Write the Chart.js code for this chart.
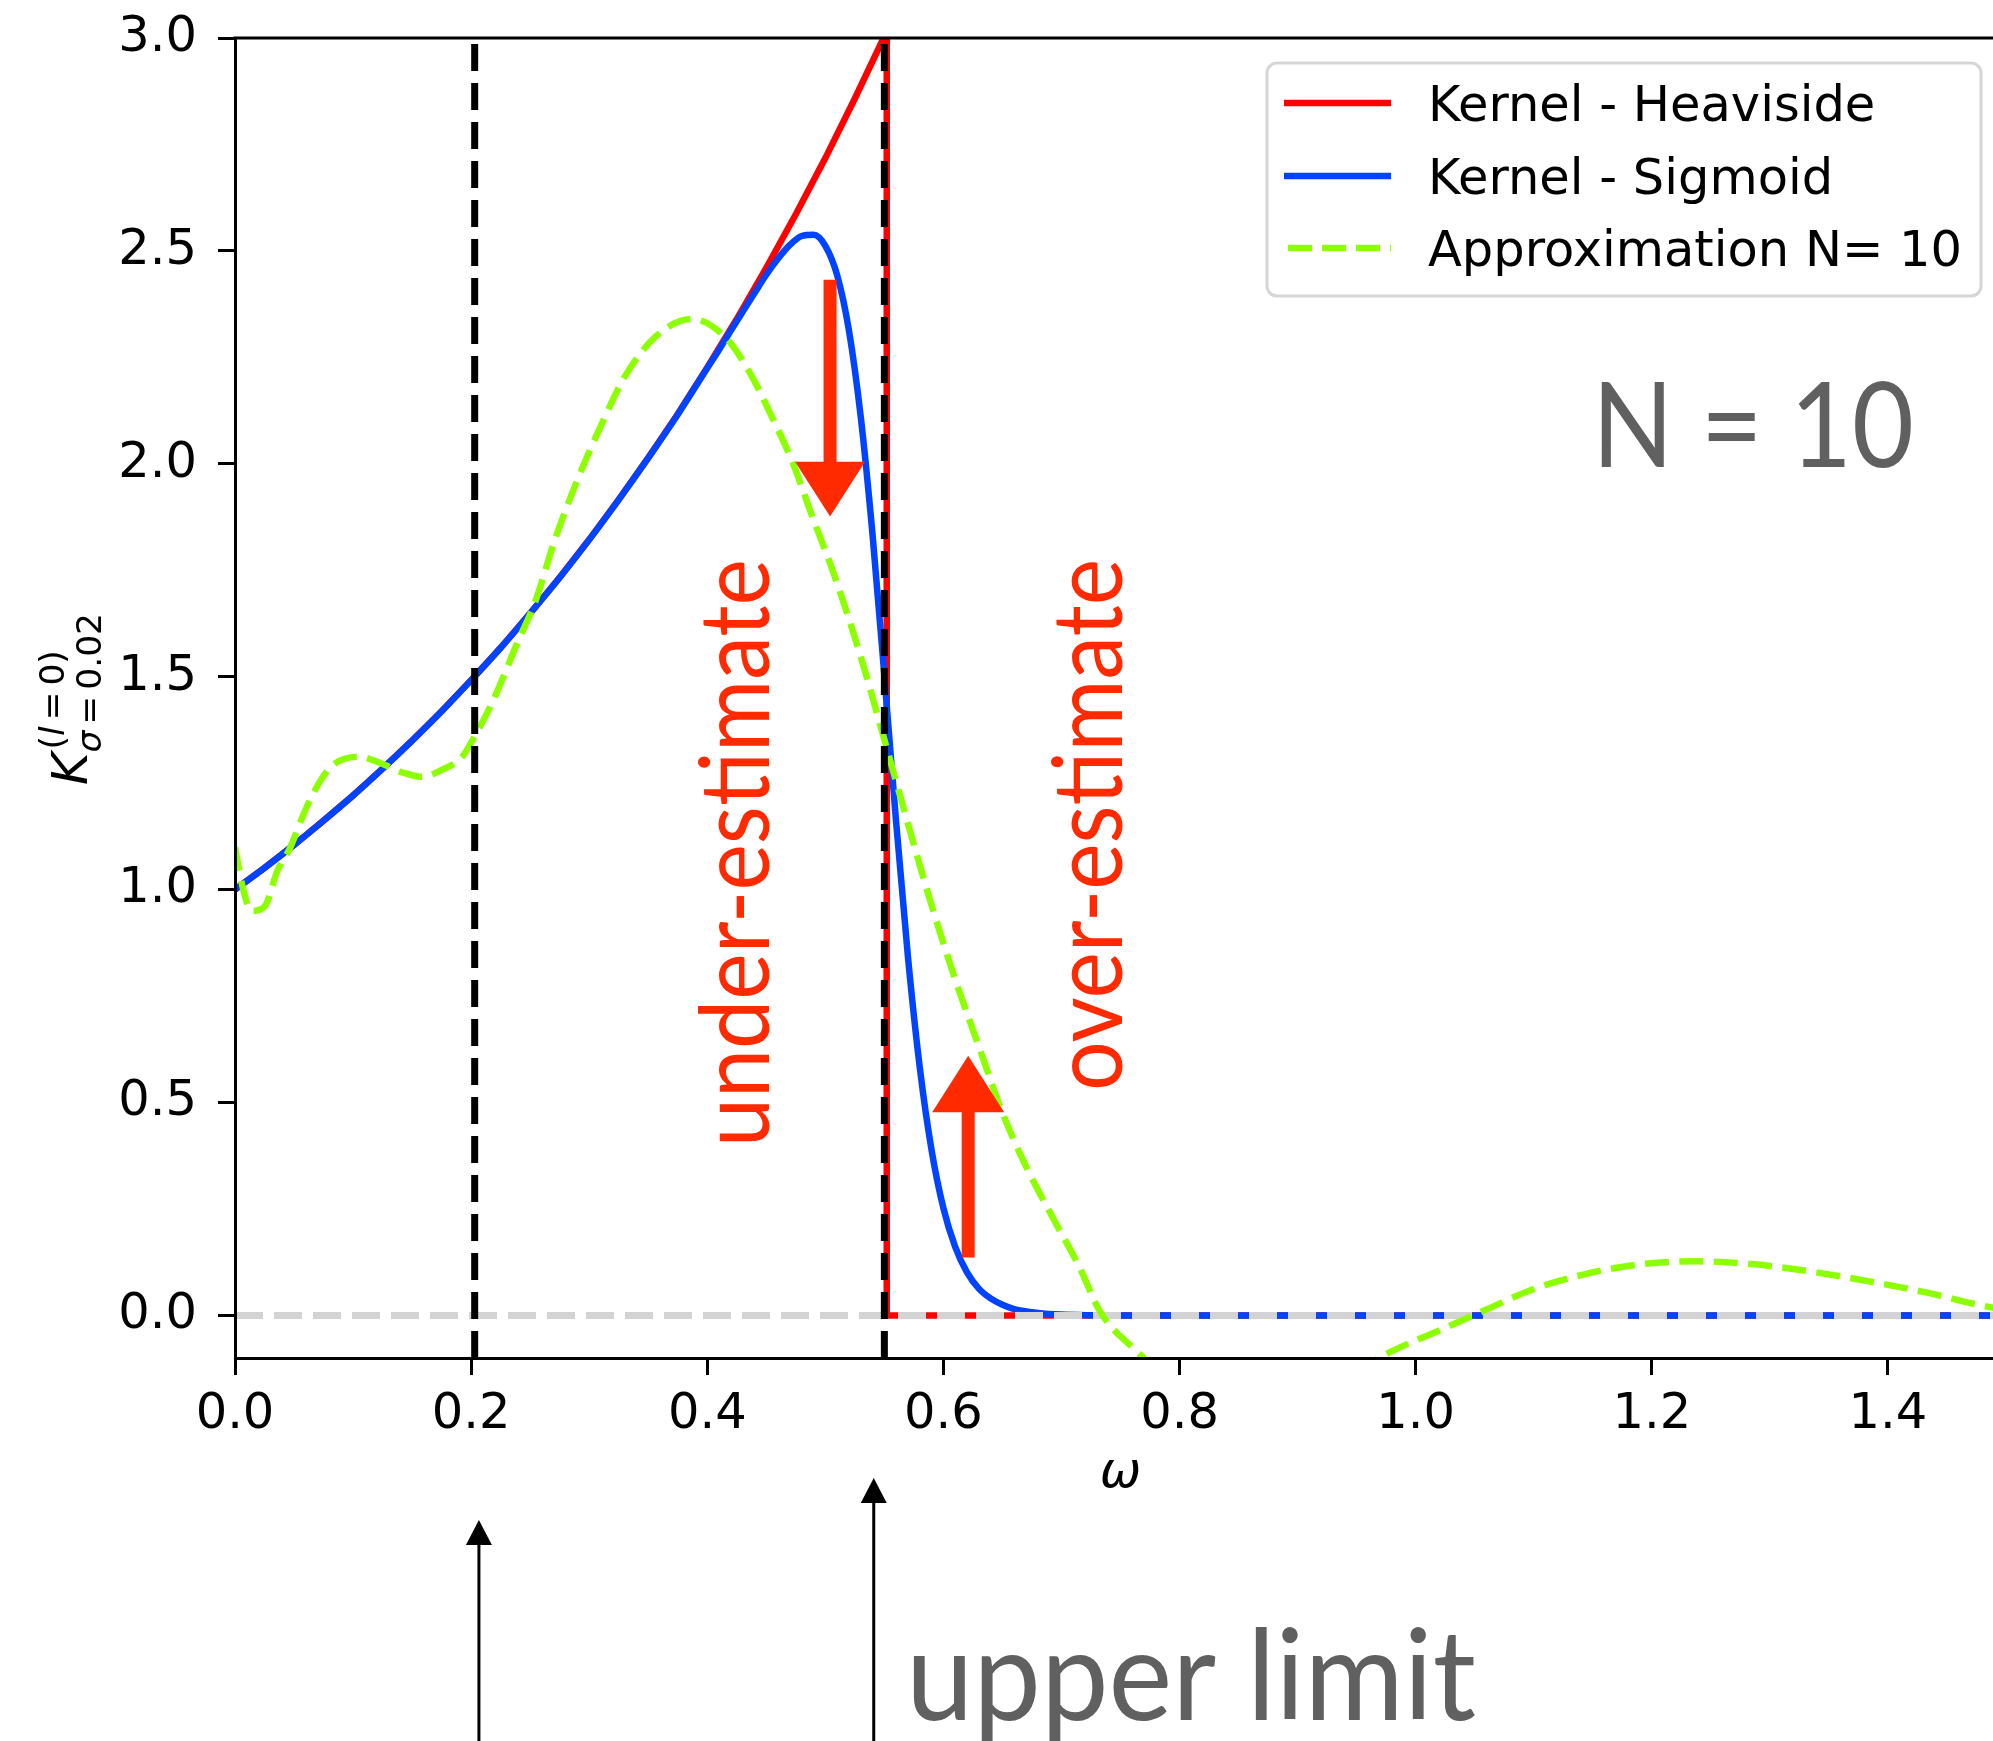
<!DOCTYPE html>
<html>
<head>
<meta charset="utf-8">
<title>Kernel approximation N = 10</title>
<script src="https://cdn.jsdelivr.net/npm/chart.js@4.4.1/dist/chart.umd.min.js"></script>
<style>
  html, body { margin: 0; padding: 0; overflow: hidden; background: #fff; }
  #wrap { width: 2010px; height: 1741px; }
</style>
</head>
<body>
<div id="wrap"><canvas id="kernelChart" width="2010" height="1741"></canvas></div>
<script>
// Heaviside kernel (step at the upper limit)
const heavisideOmega = [0, 0.025, 0.05, 0.075, 0.1, 0.125, 0.15, 0.175, 0.2, 0.225, 0.25, 0.275, 0.3,
  0.325, 0.35, 0.375, 0.4, 0.425, 0.45, 0.475, 0.5, 0.525, 0.55, 0.552, 0.552, 1.5];
const heavisideK = [1.000, 1.051, 1.105, 1.162, 1.221, 1.284, 1.350, 1.419, 1.492, 1.568, 1.649, 1.733, 1.822,
  1.916, 2.014, 2.117, 2.226, 2.340, 2.460, 2.586, 2.718, 2.858, 3.004, 3.004, 0, 0];

// Sigmoid kernel, sigma = 0.02
const sigmoidOmega = [0, 0.025, 0.05, 0.075, 0.1, 0.125, 0.15, 0.175, 0.2, 0.225, 0.25, 0.275, 0.3,
  0.325, 0.35, 0.375, 0.4, 0.41, 0.42, 0.43, 0.44, 0.45, 0.46, 0.47, 0.48, 0.49, 0.5, 0.51, 0.52,
  0.53, 0.54, 0.55, 0.56, 0.57, 0.58, 0.59, 0.6, 0.61, 0.62, 0.63, 0.64, 0.65, 0.66, 0.68, 0.7, 0.75, 1.5];
const sigmoidK = [1.000, 1.051, 1.105, 1.162, 1.221, 1.284, 1.350, 1.419, 1.492, 1.568, 1.649, 1.733, 1.822,
  1.916, 2.014, 2.116, 2.225, 2.268, 2.313, 2.357, 2.401, 2.444, 2.482, 2.514, 2.535, 2.538, 2.512, 2.443, 2.313,
  2.110, 1.833, 1.502, 1.157, 0.841, 0.582, 0.388, 0.252, 0.161, 0.101, 0.063, 0.040, 0.025, 0.015, 0.006, 0.002, 0.000, 0.000];

// Truncated expansion, N = 10
const approxOmega = [0, 0.007, 0.014, 0.025, 0.036, 0.047, 0.057, 0.068, 0.082, 0.105,
  0.125, 0.142, 0.158, 0.178, 0.192, 0.203, 0.218, 0.240, 0.254, 0.271,
  0.290, 0.311, 0.330, 0.356, 0.387, 0.415, 0.436, 0.456, 0.4725, 0.489,
  0.506, 0.521, 0.535, 0.55, 0.5885, 0.611, 0.631, 0.650, 0.670, 0.692,
  0.715, 0.7325, 0.766, 0.79, 0.82, 0.85, 0.87, 0.91, 0.95, 0.98,
  1.022, 1.06, 1.099, 1.142, 1.19, 1.239, 1.287, 1.335, 1.384, 1.432, 1.475, 1.5];
const approxK = [1.10, 1.00, 0.95, 0.96, 1.045, 1.10, 1.17, 1.235, 1.29, 1.312,
  1.295, 1.275, 1.265, 1.285, 1.31, 1.36, 1.44, 1.585, 1.674, 1.822,
  1.962, 2.096, 2.204, 2.298, 2.340, 2.298, 2.214, 2.103, 2.002, 1.876,
  1.751, 1.627, 1.50, 1.352, 0.977, 0.781, 0.624, 0.476, 0.35, 0.233,
  0.115, 0.01, -0.09, -0.15, -0.20, -0.215, -0.21, -0.18, -0.13, -0.084,
  -0.033, 0.014, 0.061, 0.096, 0.12, 0.127, 0.12, 0.103, 0.08, 0.054, 0.026, 0.012];

// reference lines
const zeroLineOmega = [0, 1.5];
const zeroLineK = [0, 0];
const windowEdges = [0.203, 0.55];

// axes
const xTicks = [0, 0.2, 0.4, 0.6, 0.8, 1.0, 1.2, 1.4];
const yTicks = [0, 0.5, 1.0, 1.5, 2.0, 2.5, 3.0];
const legendLabels = ['Kernel - Heaviside', 'Kernel - Sigmoid', 'Approximation N= 10'];

const RED_NOTE = '#ff2a00';
const GREY_NOTE = '#606060';
const MPL_FONT = '"DejaVu Sans"';
const MPL_SIZE = 49.5;

function toPoints(xs, ys) {
  return xs.map((x, i) => ({ x: x, y: ys[i] }));
}

const datasets = [
  { label: legendLabels[0], data: toPoints(heavisideOmega, heavisideK), borderColor: '#ff0000',
    borderWidth: 6.5, tension: 0, order: 6 },
  { label: legendLabels[1], data: toPoints(sigmoidOmega, sigmoidK), borderColor: '#0044ff',
    borderWidth: 6.5, cubicInterpolationMode: 'monotone', order: 5 },
  { label: legendLabels[2], data: toPoints(approxOmega, approxK), borderColor: '#8cff00',
    borderWidth: 6.5, borderDash: [24, 10.4], cubicInterpolationMode: 'monotone', order: 3 },
  { label: 'zero', data: toPoints(zeroLineOmega, zeroLineK), borderColor: '#d3d3d3',
    borderWidth: 7, borderDash: [28, 11], order: 4 }
];
windowEdges.forEach(w => {
  datasets.push({ label: 'edge', data: [{ x: w, y: -0.1 }, { x: w, y: 3.0 }], borderColor: '#000000',
    borderWidth: 7, borderDash: [27, 12], order: 2 });
});
datasets.forEach(d => { d.pointRadius = 0; d.fill = false; d.clip = 0; });

// arrow: flat tail at yTail, head base at yBase, point at yTip (works up or down)
function blockArrow(ctx, x, yTail, yBase, yTip, shaftHalf, headHalf) {
  ctx.beginPath();
  ctx.moveTo(x - shaftHalf, yTail);
  ctx.lineTo(x + shaftHalf, yTail);
  ctx.lineTo(x + shaftHalf, yBase);
  ctx.lineTo(x + headHalf, yBase);
  ctx.lineTo(x, yTip);
  ctx.lineTo(x - headHalf, yBase);
  ctx.lineTo(x - shaftHalf, yBase);
  ctx.closePath();
  ctx.fill();
}

function fitSize(ctx, text, family, target) {
  ctx.font = '100px ' + family;
  return 100 * target / ctx.measureText(text).width;
}

// vertical note reading bottom to top, its upper end pinned at (bx, topY)
function verticalNote(ctx, text, bx, topY, length) {
  const size = fitSize(ctx, text, 'Lato', length);
  ctx.save();
  ctx.translate(bx, topY);
  ctx.rotate(-Math.PI / 2);
  ctx.scale(1, 1.1);
  ctx.font = size + 'px Lato';
  ctx.fillStyle = RED_NOTE;
  ctx.textAlign = 'right';
  ctx.textBaseline = 'alphabetic';
  ctx.fillText(text, 0, 0);
  ctx.restore();
}

function drawRun(ctx, parts, x, y, size) {
  parts.forEach(p => {
    if (typeof p === 'number') { x += p; return; }
    ctx.font = (p.it ? 'italic ' : '') + size + 'px ' + MPL_FONT;
    ctx.fillText(p.s, x, y);
    x += ctx.measureText(p.s).width;
  });
}

function drawYTitle(ctx) {
  ctx.save();
  ctx.translate(87, 785);
  ctx.rotate(-Math.PI / 2);
  ctx.fillStyle = '#000';
  ctx.textAlign = 'left';
  ctx.textBaseline = 'alphabetic';
  ctx.font = 'italic ' + MPL_SIZE + 'px ' + MPL_FONT;
  ctx.fillText('K', 0, 0);
  const kw = ctx.measureText('K').width;
  drawRun(ctx, [{ s: '(' }, { s: 'l', it: true }, 6, { s: '=' }, 6, { s: '0)' }], kw + 3, -23, 34.5);
  drawRun(ctx, [{ s: 'σ', it: true }, 6, { s: '=' }, 6, { s: '0.02' }], kw, 14, 34.5);
  ctx.restore();
}

function drawLegend(chart) {
  const ctx = chart.ctx;
  ctx.save();
  ctx.beginPath();
  ctx.roundRect(1267, 63, 714, 233, 10);
  ctx.fillStyle = 'rgba(255,255,255,0.8)';
  ctx.fill();
  ctx.lineWidth = 3;
  ctx.strokeStyle = '#d5d5d5';
  ctx.stroke();
  const rows = [103, 176, 248];
  rows.forEach((y, i) => {
    const ds = chart.data.datasets[i];
    ctx.beginPath();
    ctx.setLineDash(ds.borderDash ? [24, 10] : []);
    ctx.lineDashOffset = 0;
    ctx.strokeStyle = ds.borderColor;
    ctx.lineWidth = 6.5;
    ctx.moveTo(ds.borderDash ? 1288 : 1284, y);
    ctx.lineTo(1391, y);
    ctx.stroke();
    ctx.setLineDash([]);
    ctx.fillStyle = '#000';
    ctx.font = MPL_SIZE + 'px ' + MPL_FONT;
    ctx.textAlign = 'left';
    ctx.textBaseline = 'alphabetic';
    ctx.fillText(ds.label, 1428, y + 18);
  });
  ctx.restore();
}

const notesPlugin = {
  id: 'notes',
  afterDraw(chart) {
    const ctx = chart.ctx;
    const xs = chart.scales.x;
    const ys = chart.scales.y;
    const area = chart.chartArea;

    // top and right spines
    ctx.save();
    ctx.strokeStyle = '#000';
    ctx.lineWidth = 3;
    ctx.beginPath();
    ctx.moveTo(area.left - 1.5, area.top);
    ctx.lineTo(area.right, area.top);
    ctx.lineTo(area.right, area.bottom);
    ctx.stroke();

    // under / over estimate arrows
    ctx.fillStyle = RED_NOTE;
    blockArrow(ctx, xs.getPixelForValue(0.504), ys.getPixelForValue(2.432), ys.getPixelForValue(2.005),
      ys.getPixelForValue(1.876), 6.5, 35);
    blockArrow(ctx, xs.getPixelForValue(0.621), ys.getPixelForValue(0.136), ys.getPixelForValue(0.477),
      ys.getPixelForValue(0.610), 6.5, 36);
    ctx.restore();

    verticalNote(ctx, 'under-estimate', 769, 559, 588);
    verticalNote(ctx, 'over-estimate', 1122, 559, 532);

    // N = 10
    ctx.save();
    ctx.fillStyle = GREY_NOTE;
    ctx.textAlign = 'left';
    ctx.textBaseline = 'alphabetic';
    ctx.font = fitSize(ctx, 'N = 10', 'Lato', 322) + 'px Lato';
    ctx.translate(1592, 467);
    ctx.scale(1, 1.1);
    ctx.fillText('N = 10', 0, 0);
    ctx.restore();

    drawLegend(chart);
    drawYTitle(ctx);

    // x axis title
    ctx.save();
    ctx.fillStyle = '#000';
    ctx.font = 'italic ' + MPL_SIZE + 'px ' + MPL_FONT;
    ctx.textAlign = 'center';
    ctx.textBaseline = 'alphabetic';
    ctx.fillText('ω', (area.left + area.right) / 2, 1487);
    ctx.restore();

    // lower / upper limit markers below the axis
    ctx.save();
    ctx.fillStyle = '#000';
    ctx.strokeStyle = '#000';
    ctx.lineWidth = 3;
    [[0.2066, 1520], [0.541, 1478]].forEach(([w, tip]) => {
      const px = xs.getPixelForValue(w);
      ctx.beginPath();
      ctx.moveTo(px, 1745);
      ctx.lineTo(px, tip + 20);
      ctx.stroke();
      ctx.beginPath();
      ctx.moveTo(px - 13, tip + 25);
      ctx.lineTo(px, tip);
      ctx.lineTo(px + 13, tip + 25);
      ctx.closePath();
      ctx.fill();
    });
    ctx.fillStyle = GREY_NOTE;
    ctx.textAlign = 'left';
    ctx.textBaseline = 'alphabetic';
    ctx.font = fitSize(ctx, 'upper limit', 'Lato', 570) + 'px Lato';
    ctx.translate(906, 1720);
    ctx.scale(1, 1.05);
    ctx.fillText('upper limit', 0, 0);
    ctx.restore();
  }
};

const tickFont = { family: 'DejaVu Sans', size: MPL_SIZE };
const axisGrid = { display: true, drawOnChartArea: false, drawTicks: true, tickLength: 17, tickWidth: 3, tickColor: '#000' };
const axisBorder = { display: true, color: '#000', width: 3, z: 1 };

new Chart(document.getElementById('kernelChart'), {
  type: 'line',
  data: { datasets: datasets },
  options: {
    responsive: false,
    maintainAspectRatio: false,
    animation: false,
    events: [],
    layout: { padding: { left: 0, right: 4, top: 38, bottom: 0 } },
    plugins: { legend: { display: false }, tooltip: { enabled: false } },
    scales: {
      x: {
        type: 'linear', min: 0, max: 1.5,
        afterBuildTicks: s => { s.ticks = xTicks.map(v => ({ value: v })); },
        afterFit: s => { s.height = 383; s.paddingLeft = 0; s.paddingRight = 0; },
        grid: axisGrid,
        border: axisBorder,
        ticks: { font: tickFont, color: '#000', padding: 10, maxRotation: 0, autoSkip: false,
          callback: v => v.toFixed(1) }
      },
      y: {
        type: 'linear', min: -0.1, max: 3.0,
        afterBuildTicks: s => { s.ticks = yTicks.map(v => ({ value: v })); },
        afterFit: s => { s.width = 235; s.paddingTop = 0; s.paddingBottom = 0; },
        grid: axisGrid,
        border: axisBorder,
        ticks: { font: tickFont, color: '#000', padding: 21, callback: v => v.toFixed(1) }
      }
    }
  },
  plugins: [notesPlugin]
});
</script>
</body>
</html>
